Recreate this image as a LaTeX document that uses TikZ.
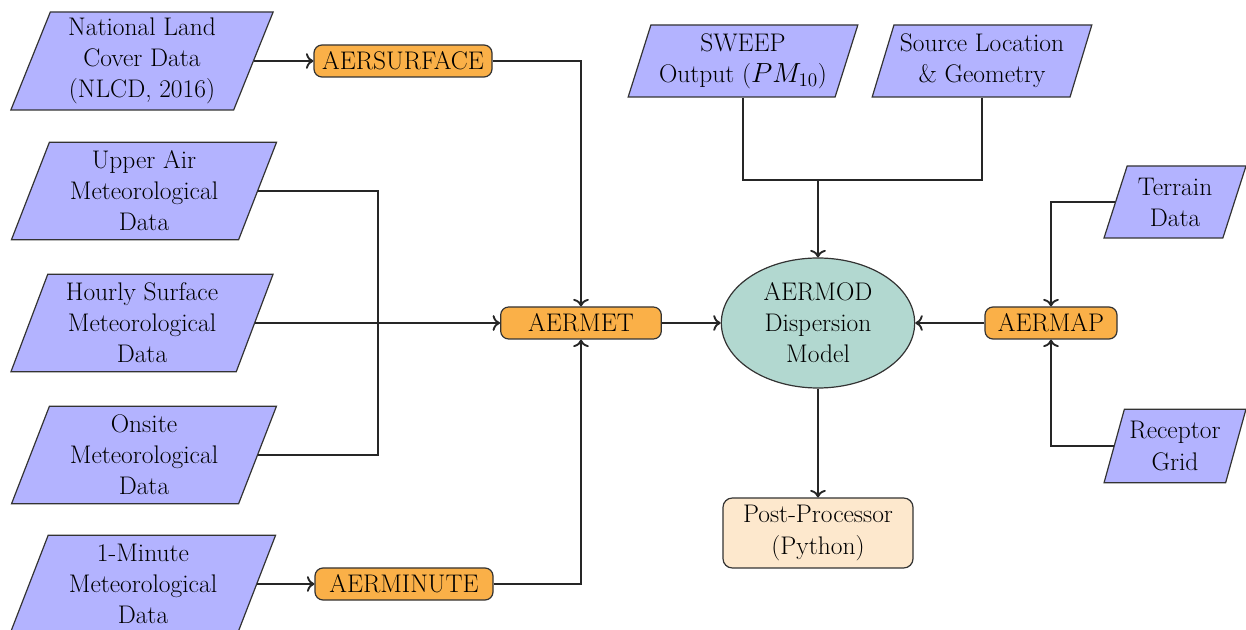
\documentclass[tikz,border=0pt]{standalone}
\usepackage{fontspec}
\usetikzlibrary{shapes.geometric,arrows.meta}
\definecolor{dataBlue}{RGB}{179,179,255}
\definecolor{procOrange}{RGB}{250,176,72}
\definecolor{modTeal}{RGB}{178,216,208}
\definecolor{postPeach}{RGB}{253,232,205}
\begin{document}
\begin{tikzpicture}[x=0.75pt,y=-0.75pt,
  font=\fontsize{19.1}{23.3}\selectfont,
  data/.style={trapezium, trapezium left angle=70, trapezium right angle=110,
    trapezium stretches=true, draw=black!80, fill=dataBlue, align=center,
    line width=0.9pt, inner sep=1pt},
  proc/.style={rectangle, rounded corners=6pt, draw=black!80, fill=procOrange,
    line width=0.9pt, minimum height=24pt, inner sep=2pt},
  conn/.style={line width=1.4pt, draw=black!85},
  arr/.style={conn,-{To[scale=1.2]}}]
\useasboundingbox (0,0) rectangle (1246,630);

% left data inputs
\node[data, minimum width=197pt, minimum height=73.5pt] (nlcd) at (142,61) {National Land\\Cover Data\\(NLCD, 2016)};
\node[data, minimum width=199pt, minimum height=73pt] (upper) at (144,191) {Upper Air\\Meteorological\\Data};
\node[data, minimum width=197pt, minimum height=73pt] (hourly) at (142,323) {Hourly Surface\\Meteorological\\Data};
\node[data, minimum width=199pt, minimum height=73pt] (onsite) at (144,455) {Onsite\\Meteorological\\Data};
\node[data, minimum width=199pt, minimum height=73pt] (oneminute) at (143,584) {1-Minute\\Meteorological\\Data};

% processors
\node[proc, minimum width=133.5pt] (aersurface) at (403,61) {AERSURFACE};
\node[proc, minimum width=133.5pt] (aerminute) at (404,584) {AERMINUTE};
\node[proc, minimum width=120.5pt] (aermet) at (581,323) {AERMET};
\node[proc, minimum width=99pt] (aermap) at (1051,323) {AERMAP};

% top inputs
\node[data, minimum width=172.5pt, minimum height=54pt] (sweep) at (743,61) {SWEEP\\Output ($PM_{10}$)};
\node[data, minimum width=165pt, minimum height=54pt] (source) at (982,61) {Source Location\\\& Geometry};

% right inputs
\node[data, minimum width=107pt, minimum height=54pt] (terrain) at (1175,202) {Terrain\\Data};
\node[data, minimum width=107pt, minimum height=55pt] (receptor) at (1175,446) {Receptor\\Grid};

% model and post-processor
\node[ellipse, draw=black!80, fill=modTeal, line width=0.9pt, minimum width=145pt,
  minimum height=97.5pt, align=center, inner sep=1pt] (aermod) at (818,323) {AERMOD\\Dispersion\\Model};
\node[rectangle, rounded corners=7pt, draw=black!80, fill=postPeach, line width=0.9pt,
  minimum width=142.5pt, minimum height=52.5pt, align=center] (post) at (818,533) {Post-Processor\\(Python)};

% junctions
\coordinate (jmet) at (378,323);
\coordinate (jtop) at (818,180);

% connectors
\draw[arr] (nlcd.east |- aersurface.west) -- (aersurface.west);
\draw[arr] (aersurface.east) -| (aermet.north);
\draw[conn] (upper.east) -| (jmet);
\draw[conn] (onsite.east) -| (jmet);
\draw[arr] (hourly.east |- aermet.west) -- (aermet.west);
\draw[arr] (oneminute.east |- aerminute.west) -- (aerminute.west);
\draw[arr] (aerminute.east) -| (aermet.south);
\draw[arr] (aermet.east) -- (aermod.west);
\draw[conn] (sweep.south) |- (jtop);
\draw[conn] (source.south) |- (jtop);
\draw[arr] (jtop) -- (aermod.north);
\draw[arr] (terrain.west) -| (aermap.north);
\draw[arr] (receptor.west) -| (aermap.south);
\draw[arr] (aermap.west) -- (aermod.east);
\draw[arr] (aermod.south) -- (post.north);
\end{tikzpicture}
\end{document}
